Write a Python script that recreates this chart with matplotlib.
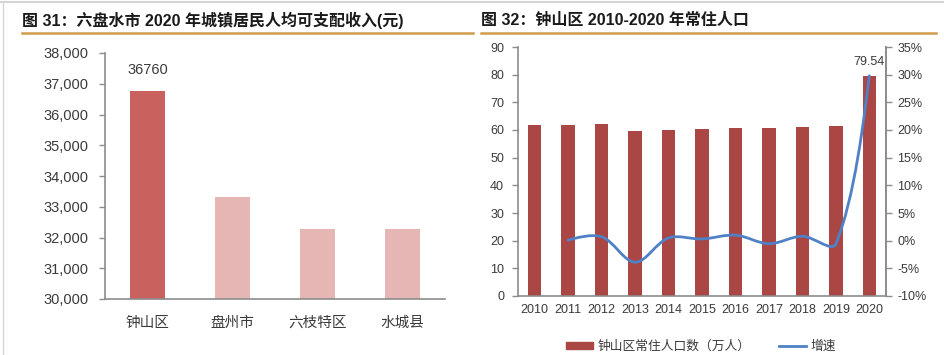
import numpy as np
import matplotlib
matplotlib.use("Agg")
import matplotlib.pyplot as plt
from matplotlib.path import Path
from matplotlib.patches import PathPatch, Rectangle
from matplotlib.lines import Line2D
from matplotlib.ticker import FuncFormatter, MultipleLocator

plt.rcParams['font.family'] = ['Liberation Sans', 'Noto Sans CJK SC', 'DejaVu Sans']

# Figure 31: income per district
districts = ['钟山区', '盘州市', '六枝特区', '水城县']
income = [36760, 33310, 32280, 32280]

# Figure 32: resident population of 钟山区
years = ['2010', '2011', '2012', '2013', '2014', '2015', '2016', '2017',
         '2018', '2019', '2020']
population = [61.7, 61.9, 62.3, 59.8, 60.0, 60.3, 60.8, 60.6, 61.1, 61.3, 79.54]
growth_years = years[1:]
growth = [0.1, 0.7, -3.9, 0.5, 0.3, 1.0, -0.55, 0.8, -0.6, 29.8]

TITLE_GOLD = '#D29A4E'
SPINE = '#8C8C8C'
TEXT = '#3A3A3A'


def smooth_path(ax, x, y, f=1 / 3):
    """Spreadsheet-style smoothed line, control points built in screen space."""
    trans = ax.transData
    p = trans.transform(np.column_stack([x, y]))
    n = len(p)
    c_out = np.zeros_like(p)
    c_in = np.zeros_like(p)
    for i in range(1, n - 1):
        d = p[i + 1] - p[i - 1]
        l_in = np.hypot(*(p[i] - p[i - 1]))
        l_out = np.hypot(*(p[i + 1] - p[i]))
        c_out[i] = p[i] + d * f * l_out / (l_in + l_out)
        c_in[i] = p[i] - d * f * l_in / (l_in + l_out)
    c_out[0] = p[0] + (c_in[1] - p[0]) * f
    c_in[-1] = p[-1] + (c_out[-2] - p[-1]) * f
    verts = [p[0]]
    codes = [Path.MOVETO]
    for i in range(n - 1):
        verts += [c_out[i], c_in[i + 1], p[i + 1]]
        codes += [Path.CURVE4] * 3
    verts = trans.inverted().transform(np.array(verts))
    return Path(verts, codes)


def main():
    fig = plt.figure(figsize=(9.44, 3.55), dpi=100)
    W, H = 944, 355

    def box(x0, y0, x1, y1):
        return [x0 / W, 1 - y1 / H, (x1 - x0) / W, (y1 - y0) / H]

    # frame lines of the page
    fig.add_artist(Line2D([0, 1], [1 - 2 / H, 1 - 2 / H], color='#D6D6D6', lw=1.5))
    fig.add_artist(Line2D([3 / W, 3 / W], [0, 1 - 2 / H], color='#D6D6D6', lw=1))

    # titles with gold underline
    fig.text(22 / W, 1 - 20 / H, '图 31：六盘水市 2020 年城镇居民人均可支配收入(元)',
             fontsize=11.5, fontweight='bold', color='#1A1A1A', va='center')
    fig.text(481 / W, 1 - 20 / H, '图 32：钟山区 2010-2020 年常住人口',
             fontsize=11.5, fontweight='bold', color='#1A1A1A', va='center')
    fig.add_artist(Line2D([22 / W, 473 / W], [1 - 33 / H] * 2, color=TITLE_GOLD, lw=1.8))
    fig.add_artist(Line2D([481 / W, 936 / W], [1 - 33 / H] * 2, color=TITLE_GOLD, lw=1.8))

    # left chart
    ax = fig.add_axes(box(105, 53, 445, 299))
    xs = np.arange(len(districts))
    colors = ['#C9625F'] + ['#E6B6B4'] * (len(districts) - 1)
    ax.bar(xs, income, width=0.41, color=colors, bottom=0)
    ax.set_ylim(30000, 38000)
    ax.set_xlim(-0.5, len(districts) - 0.5)
    ax.yaxis.set_major_locator(MultipleLocator(1000))
    ax.yaxis.set_major_formatter(FuncFormatter(lambda v, p: f'{int(v):,}'))
    ax.set_xticks(xs)
    ax.set_xticklabels(districts)
    for s in ['top', 'right']:
        ax.spines[s].set_visible(False)
    for s in ['left', 'bottom']:
        ax.spines[s].set_color(SPINE)
        ax.spines[s].set_linewidth(1.2)
    ax.tick_params(axis='y', length=4, width=1, color=SPINE, pad=8,
                   labelsize=10.5, labelcolor=TEXT)
    ax.tick_params(axis='x', length=0, pad=12, labelsize=10.5, labelcolor=TEXT)
    ax.annotate(f'{income[0]}', (xs[0], income[0]), xytext=(0, 10),
                textcoords='offset points', ha='center', va='bottom',
                fontsize=10.5, color=TEXT)

    # right chart
    ax2 = fig.add_axes(box(518, 47, 886, 296))
    xr = np.arange(len(years))
    ax2.bar(xr, population, width=0.4, color='#AA4644')
    ax2.set_ylim(0, 90)
    ax2.set_xlim(-0.5, len(years) - 0.5)
    ax2.yaxis.set_major_locator(MultipleLocator(10))
    ax2.set_xticks(xr)
    ax2.set_xticklabels(years)
    ax2.spines['top'].set_visible(False)
    for s in ['left', 'bottom', 'right']:
        ax2.spines[s].set_color(SPINE)
        ax2.spines[s].set_linewidth(1.2)
    ax2.tick_params(axis='y', length=4, width=1, color=SPINE, pad=6,
                    labelsize=9, labelcolor=TEXT)
    ax2.tick_params(axis='x', length=0, pad=6, labelsize=9, labelcolor=TEXT)
    ax2.annotate(f'{population[-1]:.2f}', (xr[-1], population[-1]), xytext=(0, 6),
                 textcoords='offset points', ha='center', va='bottom',
                 fontsize=9, color=TEXT)

    ax3 = ax2.twinx()
    ax3.set_ylim(-10, 35)
    ax3.yaxis.set_major_locator(MultipleLocator(5))
    ax3.yaxis.set_major_formatter(FuncFormatter(lambda v, p: f'{int(round(v))}%'))
    for s in ['top', 'left', 'bottom']:
        ax3.spines[s].set_visible(False)
    ax3.spines['right'].set_color(SPINE)
    ax3.spines['right'].set_linewidth(1.2)
    ax3.tick_params(axis='y', length=4, width=1, color=SPINE, pad=4,
                    labelsize=9, labelcolor=TEXT)
    gx = [years.index(y) for y in growth_years]
    ax3.add_patch(PathPatch(smooth_path(ax3, gx, growth), fill=False,
                            edgecolor='#4F81C7', lw=2, capstyle='round'))

    # legend
    handles = [Rectangle((0, 0), 1, 1, color='#AA4644'),
               Line2D([], [], color='#4F81C7', lw=2)]
    fig.legend(handles, ['钟山区常住人口数（万人）', '增速'], loc='center',
               bbox_to_anchor=(701 / W, 1 - 347 / H), ncol=2, frameon=False,
               fontsize=9.2, handlelength=2.1, handleheight=0.5,
               columnspacing=2.2, handletextpad=0.4, labelcolor=TEXT)

    fig.savefig('out.png', dpi=100)


if __name__ == "__main__":
    main()
